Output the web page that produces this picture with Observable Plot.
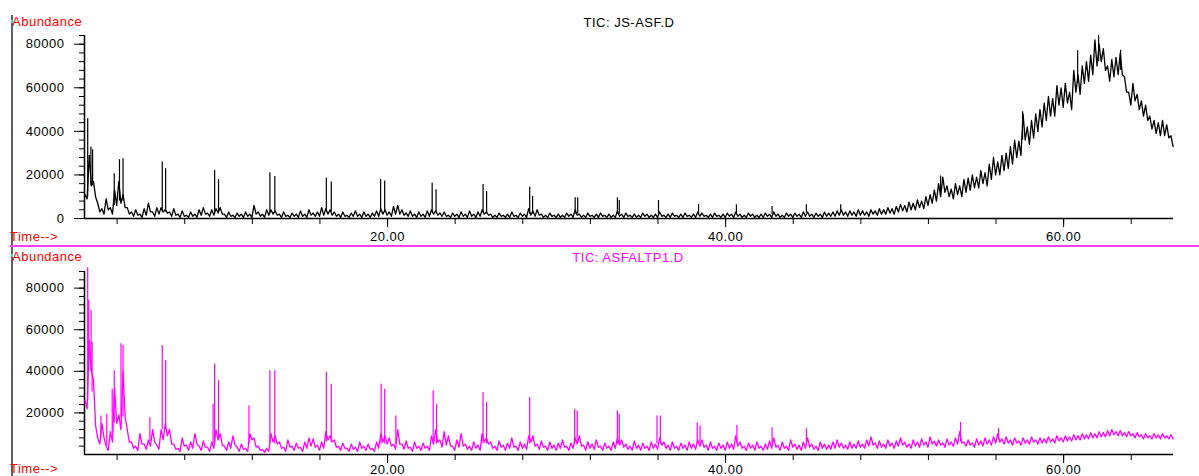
<!DOCTYPE html>
<html><head><meta charset="utf-8">
<script src="https://cdn.jsdelivr.net/npm/d3@7"></script>
<script src="https://cdn.jsdelivr.net/npm/@observablehq/plot@0.6"></script>
<style>
html,body{margin:0;padding:0;background:#fff;overflow:hidden;}
#wrap{position:relative;width:1199px;height:476px;overflow:hidden;font-family:"Liberation Sans",Arial,sans-serif;font-size:13px;letter-spacing:0.5px;}
#wrap svg{position:absolute;left:0;}
.lbl{position:absolute;white-space:nowrap;line-height:13px;}
.red{color:#ff0000;}
.mag{color:#ff00ff;}
</style></head>
<body><div id="wrap"></div>
<script>
// Sampling grid of both chromatograms (minutes); each step has a high and a low reading
const gridStart = 2.1, gridStep = 0.25;

// TIC: JS-ASF.D — upper edge of the noisy trace, thousands, one value per grid step
const jsHighK = [
 11,29,17,7,4.5,9,5,13,17,11,
 5,3,4,2,4.5,7,3,5,5,4,
 3,4.5,2,3.5,1.5,3,2,4,5,2.5,
 4,4.5,5,2,3,1.5,2.5,2,3,2,
 6,3,2,4,4,3.5,2,3,1.5,2.5,
 2,3.5,2,4,2.5,3,5,4.5,4,3,
 2,3,1.5,2.5,3.5,2,3,2,2.5,3.5,
 4.5,4,3,5.5,6,4,2.5,3.5,2,3,
 2,3.5,4,3.5,2.5,3,1.5,2.5,2,3,
 2,3.5,2,3,4,3,2,1.5,2.5,1.5,
 2,3,1.5,2.5,2,4.5,3.5,4,2,1.5,
 2.5,1.5,2,1.5,2.5,2,4,2,1.5,2.5,
 1.5,2,2.5,1.5,2,1.5,3.5,2,2.5,1.5,
 2,1.5,2.5,2,1.5,2,3,1.5,2,2.5,
 1.5,2,2.5,1.5,2,3,2.5,1.5,2,2.5,
 1.5,2,2.5,2,3,2,1.5,2.5,2,1.5,
 2,2.5,2,3,2,1.5,2.5,2,2.5,2,
 3,3,2,2.5,2,3,2.5,3,3.5,4,
 3,3.5,3,4,3.5,3,4,3.5,4.5,4,
 5,4.5,5.5,6.5,6,7.5,7,8.5,8,10,
 11,13,16,19,15,13.5,16,15,18,18.5,
 20,19,22,21,25,28,26,29,30,33,
 36,35.5,48,42,45,48,50,53,56,55,
 61,60,62,58,68,66,70,72,75,82,
 80,78,70,73,74,76,65,58,62,57,
 54,52,47,45,44,45,43,38
];
// TIC: JS-ASF.D — lower edge of the noisy trace, thousands (half a step later)
const jsLowK = [
 9,15,10,3,2,4,2,6,7,5,
 2,1,1.5,0.5,1.5,3,1,2,3,2.5,
 1,1.5,0.5,1,0.5,1,0.5,1.5,2,1,
 1.5,2.5,2,0.5,1,0.5,1,0.5,1,0.5,
 2,1,0.5,1.5,2,1.5,0.5,1,0.5,1,
 0.5,1,0.5,1.5,1,1,1.5,2,1.5,1,
 0.5,1,0.5,1,1,0.5,1,0.5,1,1,
 2,1.5,1,2,2,1.5,1,1,0.5,1,
 0.5,1,2,1.5,1,1,0.5,1,0.5,1,
 0.5,1,0.5,1,2,1.5,0.5,0.5,1,0.5,
 0.5,1,0.5,1,0.5,1.5,1,1.5,0.5,0.5,
 1,0.5,0.5,0.5,1,0.5,1.5,0.5,0.5,1,
 0.5,0.5,1,0.5,0.5,0.5,1,0.5,1,0.5,
 0.5,0.5,1,0.5,0.5,0.5,1,0.5,0.5,1,
 0.5,0.5,1,0.5,0.5,1,1,0.5,0.5,1,
 0.5,0.5,1,0.5,1,0.5,0.5,1,0.5,0.5,
 0.5,1,0.5,1,0.5,0.5,1,0.5,1,0.5,
 1,1,0.5,1,0.5,1,1,1,1.5,1.5,
 1,1.5,1,1.5,1.5,1,2,1.5,2,2,
 2.5,2,3,3.5,3,4,4,5,4.5,6,
 7,8,10,12,10,9,11,10,12,13,
 14,14,16,15,18,20,20,22,23,25,
 28,29,36,34,37,40,42,45,47,47,
 52,51,53,50,58,57,62,63,66,70,
 72,68,63,65,66,66,58,52,54,50,
 47,45,41,39,38,38,37,33
];

// TIC: ASFALTP1.D — upper edge of the noisy trace, thousands
const asfHighK = [
 26,55,36,8,15,4,11,32,19,40,
 12,6,4,10,5,7,12,4.5,12,15,
 12,5,3,8,4.5,6,10,4,6.5,3.5,
 6,12,10,4,6,9,3.5,5,3,10,
 8,4,2.5,3,10,9,6,3.5,7,4,
 5.5,3.5,6,8,7.5,4.5,6,11,9,7,
 4,5.5,3,5,3.5,6,4,5,3,6,
 10,9,8,5,12,5,6.5,3.5,6,4,
 5.5,4,9,12,7,11,9,4,7,10,
 5,4,6,4.5,10,8,6,4,6.5,4.5,
 5.5,8,4,6,5,9,9,5,6.5,4,
 6,4.5,5.5,7,4,5.5,8,9,4.5,6,
 5,7,4,5.5,4,6,8,7,5,4,
 6.5,4.5,5.5,4,6,5,8,6,4.5,6,
 4,5.5,4.5,6,5,7,7,4.5,6,4,
 5.5,4.5,6,5,9,6,4,5.5,4.5,6,
 4,5,6.5,8,4.5,6,4,7,5,4.5,
 6,8,5,4,6,5,4.5,6,7,5.5,
 4.5,6,5,6.5,5,7,8.5,5.5,6.5,5,
 7,5.5,6.5,8,6,5,7,6,7.5,6,
 8.5,6.5,7,5.5,7.5,6,8,11,6,7,
 5.5,7.5,6.5,8,7,8.5,10,7.5,8.5,7,
 8,6.5,8,7,8.5,7,8,7.5,8.5,7.5,
 9,8,9,8.5,9.5,9,10,9.5,10.5,10,
 11,10.5,11.5,12,11,11.5,10.5,11,10,10.5,
 9.5,10,9,10,9.5,10,9,9.5
];
// TIC: ASFALTP1.D — lower edge of the noisy trace, thousands (half a step later)
const asfLowK = [
 22,40,14,5,8,2,6,15,12,18,
 6,3,2,5,2.5,4,6,2.5,7,9,
 5,2.5,1.5,4,2,3,5,2,3.5,1.5,
 3,7,4.5,2,3,4.5,1.5,2.5,1.5,7,
 3.5,2,1,1.5,6,5,3,1.5,3.5,2,
 3,1.5,3,4,3.5,2,3,7,6,3.5,
 2,3,1.5,2.5,1.5,3,2,2.5,1.5,3,
 6,5,4,2.5,5,2.5,3,1.5,3,2,
 3,2,5,6,3.5,4.5,4,2,3.5,4,
 2.5,2,3,2,6,5,3,2,3.5,2,
 3,3.5,2,3,2.5,6,4,2.5,3.5,2,
 3,2,3,3.5,2,3,5,4,2,3,
 2.5,3.5,2,3,2,3,4.5,3.5,2.5,2,
 3,2,3,2,3,2.5,4.5,3,2,3,
 2,3,2,3,2.5,4,3.5,2,3,2,
 3,2,3,2.5,4,3,2,3,2,3,
 2,2.5,3,3.5,2,3,2,3.5,2.5,2,
 3,3.5,2.5,2,3,2.5,2.5,3,3.5,3,
 2.5,3,3,3.5,3,4,4.5,3,3.5,3,
 4,3,4,4.5,3.5,3,4,3.5,4.5,3.5,
 5,4,4.5,3.5,4.5,4,5,5.5,4,4.5,
 3.5,4.5,4,5,4.5,5.5,6,5,5.5,4.5,
 5.5,4.5,5.5,5,6,5,5.5,5.5,6,5.5,
 6.5,6,6.5,6.5,7,7,7.5,7.5,8,8,
 8.5,8.5,9,9.5,9,9,8.5,9,8,8.5,
 7.5,8,7.5,8,7.5,8,7.5,7.5
];

// Narrow peaks: [time (min), foot (thousands), apex (thousands)]
const jsPeaks = [
 [2.26,10,45.8],[2.45,15,32.8],[2.55,15,31.6],[3.83,6,20.5],[4.14,8,27],[4.35,8,27.4],
 [6.67,3,25.9],[6.87,3,22.8],[9.77,3,22],[10.0,3,17.9],[13.04,2.5,21],[13.33,2.5,19.3],
 [16.38,3,18.5],[16.67,3,16.7],[19.59,3,17.9],[19.83,3,17.2],[22.64,3,16.2],[22.87,3,13.2],
 [25.65,2.5,15.6],[25.86,2.5,12.4],[28.41,2,14.4],[28.58,2,10.1],[31.10,2,9.5],[31.25,2,9.5],
 [33.60,2,9.5],[33.71,2,8.3],[36.03,2,8.3],[38.40,2,6.4],[40.64,2,6.3],[42.75,2,5.5],
 [44.78,2.5,6.3],[46.81,3,6.3],[52.72,12,19.5],[57.57,36,49],[60.83,62,77],[62.07,72,84],[63.37,68,77.2]
];
const asfPeaks = [
 [2.26,26,89.8],[2.32,40,74.2],[2.46,40,69.3],[2.52,30,54],[3.04,8,18.5],[3.39,4,19.3],
 [3.71,10,31.4],[3.83,15,40.3],[4.23,18,53.2],[4.35,18,52.4],[5.94,6,17.7],[6.67,12,52.4],
 [6.87,12,45.1],[9.68,5,24.2],[9.77,5,43.5],[10.0,8,35.5],[11.8,5,23.3],[13.04,5,40.3],
 [13.33,5,40.3],[16.38,6,39.5],[16.67,6,33.8],[19.62,5,33.8],[19.83,5,31.4],[20.49,5,18.5],
 [22.70,5,30.6],[22.90,5,24.2],[25.65,5,29.8],[25.86,5,25],[28.41,5,27.4],[31.07,5,21.7],
 [31.22,5,20.9],[33.60,5,20.9],[33.71,5,19.3],[35.94,5,18.5],[36.14,5,18.5],[38.32,5,15.3],
 [38.49,5,13.7],[40.67,5,14],[42.75,5,12.9],[44.78,5,12.4],[53.90,6,15.4],[56.15,7,12.4]
];

// Axis ticks
const timeDomain = [2.07, 66.5];
const timeMinorTicks = [4,8,12,16,20,24,28,32,36,40,44,48,52,56,60,64];
const timeMajorTicks = [20,40,60];
const topYMajor = [0,20000,40000,60000,80000];
const bottomYMajor = [20000,40000,60000,80000];
const topYMax = 84000, bottomYMax = 88000, yMinorStep = 4000;

// Interleave high (at grid time) and low (half a step later) readings
function toRows(high, low) {
  const rows = [];
  high.forEach((v, i) => {
    const t = gridStart + i * gridStep;
    rows.push({t, v: v * 1000});
    rows.push({t: t + gridStep / 2, v: low[i] * 1000});
  });
  return rows;
}
const toPeaks = arr => arr.map(([t,b,a]) => ({t, b: b*1000, a: a*1000}));

const baseStyle = {fontFamily: "Liberation Sans, Arial, sans-serif", fontSize: "13px", letterSpacing: "0.5px", color: "#000", background: "transparent"};

function panel(high, low, peaks, color, yMax, yMajor, opts) {
  const minor = d3.range(yMinorStep, yMax + 1, yMinorStep);
  return Plot.plot({
    width: 1199, height: opts.height,
    marginLeft: 84, marginRight: 26, marginTop: opts.mt, marginBottom: opts.mb,
    x: {domain: timeDomain},
    y: {domain: [0, yMax]},
    style: baseStyle,
    marks: [
      Plot.axisY({ticks: minor, tickSize: 5, tickFormat: () => "", label: null}),
      Plot.axisY({ticks: yMajor, tickSize: 10, tickPadding: 10, tickFormat: d3.format("d"), label: null}),
      Plot.axisX({ticks: timeMinorTicks, tickSize: 6, tickFormat: () => "", label: null}),
      Plot.axisX({ticks: timeMajorTicks, tickSize: 9, tickPadding: opts.xpad, tickFormat: d3.format(".2f"), label: null}),
      Plot.ruleX([timeDomain[0]], {stroke: "#000", strokeWidth: 1.5}),
      Plot.ruleY([0], {stroke: "#000", strokeWidth: 1.5}),
      Plot.ruleX(toPeaks(peaks), {x: "t", y1: "b", y2: "a", stroke: color, strokeWidth: 1.2}),
      Plot.line(toRows(high, low), {x: "t", y: "v", stroke: color, strokeWidth: 1.3})
    ]
  });
}

const wrap = document.getElementById("wrap");
const topPanel = panel(jsHighK, jsLowK, jsPeaks, "#000000", topYMax, topYMajor, {height: 246, mt: 35, mb: 28, xpad: 4});
topPanel.style.top = "0px";
wrap.appendChild(topPanel);
const bottomPanel = panel(asfHighK, asfLowK, asfPeaks, "#ff00ff", bottomYMax, bottomYMajor, {height: 230, mt: 25, mb: 22, xpad: 1});
bottomPanel.style.top = "246px";
wrap.appendChild(bottomPanel);

function addDiv(css, text, cls) {
  const d = document.createElement("div");
  if (cls) d.className = cls;
  d.style.cssText = css;
  if (text) d.textContent = text;
  wrap.appendChild(d);
}
// frame decorations
addDiv("position:absolute;left:11px;top:15px;width:2px;height:461px;background:#606060;");
addDiv("position:absolute;left:10px;top:245px;width:1189px;height:2px;background:#ff40ff;");
addDiv("position:absolute;left:11px;top:20px;width:2px;height:3px;background:#40d8e0;");
addDiv("position:absolute;left:11px;top:254px;width:2px;height:3px;background:#40d8e0;");
// texts
addDiv("left:12px;top:15px;", "Abundance", "lbl red");
addDiv("left:529px;top:16px;width:200px;text-align:center;color:#000;", "TIC: JS-ASF.D", "lbl");
addDiv("left:10px;top:230px;", "Time-->", "lbl red");
addDiv("left:12px;top:250px;", "Abundance", "lbl red");
addDiv("left:528px;top:251px;width:200px;text-align:center;", "TIC: ASFALTP1.D", "lbl mag");
addDiv("left:10px;top:462px;", "Time-->", "lbl red");
</script>
</body></html>
